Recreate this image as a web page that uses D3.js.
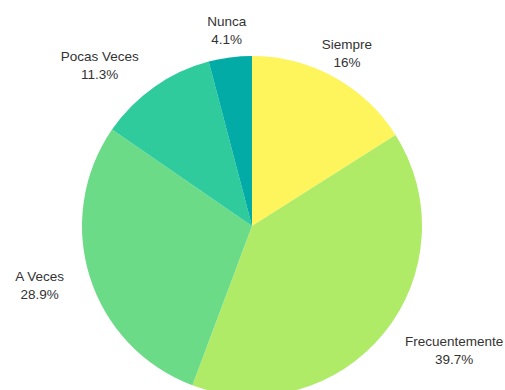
<!DOCTYPE html>
<html>
<head>
<meta charset="utf-8">
<script src="https://cdn.jsdelivr.net/npm/d3@7"></script>
<style>
  html, body { margin: 0; padding: 0; background: #fff; }
  svg { display: block; }
</style>
</head>
<body>
<svg id="chart" width="505" height="390"></svg>
<script>
// Survey answers and their shares (%)
const categories = ["Siempre", "Frecuentemente", "A Veces", "Pocas Veces", "Nunca"];
const values = [16, 39.7, 28.9, 11.3, 4.1];
const labels = ["16%", "39.7%", "28.9%", "11.3%", "4.1%"];
const colors = ["#fdf55b", "#b0eb68", "#6cdb87", "#2fcb9d", "#02aba5"];

const width = 505, height = 390;
const cx = 252, cy = 226, radius = 170, labelRadius = 197;

const svg = d3.select("#chart");
const g = svg.append("g").attr("transform", `translate(${cx},${cy})`);

const color = d3.scaleOrdinal().domain(categories).range(colors);

const pie = d3.pie().sort(null).value(d => d.value);
const data = categories.map((c, i) => ({ name: c, value: values[i], label: labels[i] }));
const arcs = pie(data);

const arc = d3.arc().innerRadius(0).outerRadius(radius);
const labelArc = d3.arc().innerRadius(labelRadius).outerRadius(labelRadius);

g.selectAll("path.slice")
  .data(arcs)
  .join("path")
  .attr("class", "slice")
  .attr("d", arc)
  .attr("fill", d => color(d.data.name));

// Two-line labels: lines centred on each other, block pushed outward on the sides
const lab = g.selectAll("text.lbl")
  .data(arcs)
  .join("text")
  .attr("class", "lbl")
  .attr("text-anchor", "middle")
  .attr("font-family", "'Liberation Sans', Arial, sans-serif")
  .attr("font-size", 13.5)
  .attr("fill", "#333");

lab.append("tspan")
  .attr("x", 0)
  .attr("y", -9)
  .attr("dy", "0.35em")
  .text(d => d.data.name);

lab.append("tspan")
  .attr("x", 0)
  .attr("y", 9)
  .attr("dy", "0.35em")
  .text(d => d.data.label);

lab.each(function (d) {
  const [px, py] = labelArc.centroid(d);
  const w = d3.max(d3.select(this).selectAll("tspan").nodes(), n => n.getComputedTextLength());
  const s = Math.sin((d.startAngle + d.endAngle) / 2);
  const shift = Math.abs(s) < 0.5 ? 0 : (s > 0 ? w / 2 : -w / 2);
  d3.select(this).attr("transform", `translate(${px + shift},${py})`);
});
</script>
</body>
</html>
